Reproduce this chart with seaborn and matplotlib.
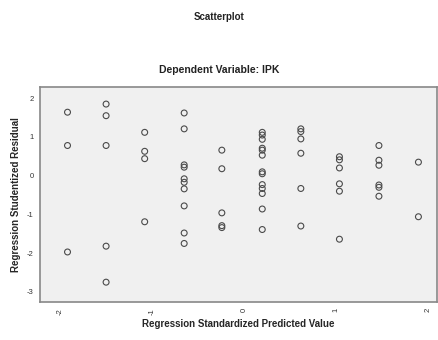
import matplotlib
matplotlib.use("Agg")
import matplotlib.pyplot as plt
import seaborn as sns
import pandas as pd

x_cols = [-1.92, -1.50, -1.08, -0.65, -0.24, 0.20, 0.62, 1.04, 1.47, 1.90]
resid = [
    [1.64, 0.78, -1.97],
    [1.85, 1.55, 0.78, -1.82, -2.75],
    [1.12, 0.63, 0.44, -1.19],
    [1.62, 1.21, 0.28, 0.22, -0.08, -0.17, -0.34, -0.78, -1.48, -1.75],
    [0.66, 0.18, -0.96, -1.29, -1.34],
    [1.12, 1.05, 0.94, 0.71, 0.66, 0.53, 0.10, 0.05, -0.23, -0.33, -0.46, -0.86, -1.39],
    [1.21, 1.14, 0.95, 0.58, -0.33, -1.30],
    [0.49, 0.41, 0.20, -0.21, -0.40, -1.64],
    [0.78, 0.40, 0.27, -0.24, -0.30, -0.53],
    [0.35, -1.06],
]
x_ticks = [-2, -1, 0, 1, 2]
y_ticks = [-3, -2, -1, 0, 1, 2]

xs, ys = [], []
for xv, col in zip(x_cols, resid):
    for r in col:
        xs.append(xv)
        ys.append(r)
df = pd.DataFrame({"pred": xs, "resid": ys})

sns.set_style("white")
plt.rcParams["font.family"] = ["Liberation Sans", "DejaVu Sans"]

fig = plt.figure(figsize=(4.39, 3.40), dpi=100)
ax = fig.add_axes([0.091, 0.112, 0.904, 0.632])
ax.set_facecolor("#f0f0f0")
sns.scatterplot(data=df, x="pred", y="resid", ax=ax, marker="o", s=18,
                facecolors="none", edgecolor="#4a4a4a", linewidth=0.8)
ax.set_xlim(-2.22, 2.10)
ax.set_ylim(-3.26, 2.29)
ax.set_xticks(x_ticks)
ax.set_yticks(y_ticks)
ax.set_xticklabels([str(t) for t in x_ticks], rotation=90, fontsize=5.5, color="#333333")
ax.set_yticklabels([str(t) for t in y_ticks], fontsize=5.5, color="#333333")
ax.tick_params(axis="both", length=3, width=0.8, color="#555555", pad=1.5)
for s in ax.spines.values():
    s.set_color("#888888")
    s.set_linewidth(1.2)
ax.set_xlabel("Regression Standardized Predicted Value", fontsize=7, fontweight="bold", labelpad=3)
ax.set_ylabel("Regression Studentized Residual", fontsize=7, fontweight="bold", labelpad=4)
fig.text(0.50, 0.95, "Scatterplot", ha="center", va="center", fontsize=7, fontweight="bold", color="#222222")
fig.text(0.50, 0.795, "Dependent Variable: IPK", ha="center", va="center", fontsize=7.5, fontweight="bold", color="#222222")
fig.savefig("out.png", dpi=100)
